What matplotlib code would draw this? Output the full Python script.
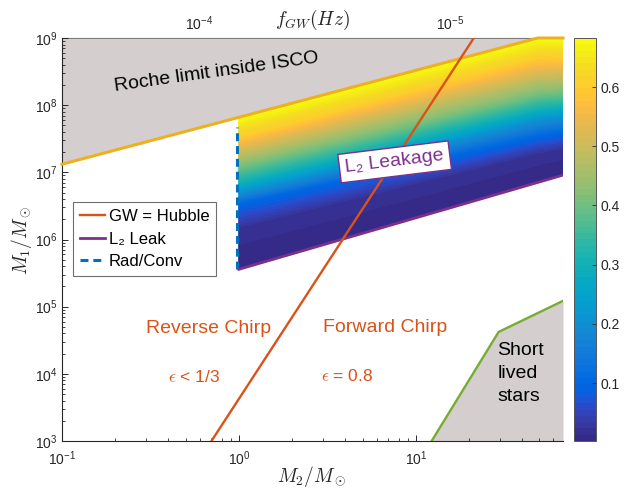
import numpy as np
import matplotlib
matplotlib.use('Agg')
import matplotlib.pyplot as plt
from matplotlib.colors import ListedColormap, Normalize
from matplotlib.ticker import FuncFormatter, FixedLocator

plt.rcParams['font.family'] = ['Liberation Sans', 'DejaVu Sans']
plt.rcParams['mathtext.fontset'] = 'cm'

# ---------------- data ----------------
x_lim = [0.1, 68.0]
y_lim = [1e3, 1e9]

roche_m2 = [0.1, 1.0, 49.0, 68.0]
roche_m1 = [1.32e7, 6.6e7, 1.0e9, 1.0e9]

l2_m2 = [1.0, 68.0]
l2_m1 = [3.6e5, 9.1e6]

gw_m2 = [0.70, 21.3]
gw_m1 = [1e3, 1e9]

radconv_m2 = [0.97, 0.97]
radconv_m1 = [3.7e5, 4.7e7]

short_m2 = [12.3, 29.4, 68.0]
short_m1 = [1e3, 4.2e4, 1.22e5]

# colour field: fractional (log) height between L2 line (0) and upper edge (1)
field_frac_left = [0.0, 0.27, 0.43, 0.50, 0.57, 0.67, 0.87, 1.0]   # at M2 = 1
field_frac_right = [0.0, 0.19, 0.31, 0.42, 0.50, 0.60, 0.86, 1.0]  # at M2 = 68
field_vals = [0.002, 0.02, 0.10, 0.20, 0.30, 0.40, 0.60, 0.683]
c_lim = [0.002, 0.683]
cbar_ticks = [0.1, 0.2, 0.3, 0.4, 0.5, 0.6]

x_major = [0.1, 1.0, 10.0]
y_major = [1e3, 1e4, 1e5, 1e6, 1e7, 1e8, 1e9]
top_major = [1e-5, 1e-4]
# top axis mapping f_GW = f_ref * (M2 / m2_ref) ** slope
fgw_ref = 1e-4
fgw_m2_ref = 0.594
fgw_slope = -0.705

legend_labels = ['GW = Hubble', 'L\u2082 Leak', 'Rad/Conv']

# parula colormap (64 entries)
parula = [
[0.2081,0.1663,0.5292],[0.2116,0.1898,0.5777],[0.2123,0.2138,0.6270],[0.2081,0.2386,0.6771],
[0.1959,0.2645,0.7279],[0.1707,0.2919,0.7792],[0.1253,0.3242,0.8303],[0.0591,0.3598,0.8683],
[0.0117,0.3875,0.8820],[0.0060,0.4086,0.8828],[0.0165,0.4266,0.8786],[0.0329,0.4430,0.8720],
[0.0498,0.4586,0.8641],[0.0629,0.4737,0.8554],[0.0723,0.4887,0.8467],[0.0779,0.5040,0.8384],
[0.0793,0.5200,0.8312],[0.0749,0.5375,0.8263],[0.0641,0.5570,0.8240],[0.0488,0.5772,0.8228],
[0.0343,0.5966,0.8199],[0.0265,0.6137,0.8135],[0.0239,0.6287,0.8038],[0.0231,0.6418,0.7913],
[0.0228,0.6535,0.7768],[0.0267,0.6642,0.7607],[0.0384,0.6743,0.7436],[0.0590,0.6838,0.7254],
[0.0843,0.6928,0.7062],[0.1133,0.7015,0.6859],[0.1453,0.7098,0.6646],[0.1801,0.7177,0.6424],
[0.2178,0.7250,0.6193],[0.2586,0.7317,0.5954],[0.3022,0.7376,0.5712],[0.3482,0.7424,0.5473],
[0.3953,0.7459,0.5244],[0.4420,0.7481,0.5033],[0.4871,0.7491,0.4840],[0.5300,0.7491,0.4661],
[0.5709,0.7485,0.4494],[0.6099,0.7473,0.4337],[0.6473,0.7456,0.4188],[0.6834,0.7435,0.4044],
[0.7184,0.7411,0.3905],[0.7525,0.7384,0.3768],[0.7858,0.7356,0.3633],[0.8185,0.7327,0.3498],
[0.8507,0.7299,0.3360],[0.8824,0.7274,0.3217],[0.9139,0.7258,0.3063],[0.9450,0.7261,0.2886],
[0.9739,0.7314,0.2666],[0.9938,0.7455,0.2403],[0.9990,0.7653,0.2164],[0.9955,0.7861,0.1967],
[0.9880,0.8066,0.1794],[0.9789,0.8271,0.1633],[0.9697,0.8481,0.1475],[0.9626,0.8705,0.1309],
[0.9589,0.8949,0.1132],[0.9598,0.9218,0.0948],[0.9661,0.9514,0.0755],[0.9763,0.9831,0.0538]]
cmap = ListedColormap(parula, name='parula')

C_GW = '#D95319'
C_L2 = '#7E2F8E'
C_RC = '#0072BD'
C_ROCHE = '#EDB120'
C_SHORT = '#77AC30'
C_GRAY = '#D5CECE'
C_AX = '#262626'

# ---------------- figure ----------------
W, H = 628, 490
fig = plt.figure(figsize=(W / 100, H / 100), dpi=100)
ax = fig.add_axes([62 / W, 1 - 441 / H, (563 - 62) / W, (441 - 38) / H])
ax.set_xscale('log')
ax.set_yscale('log')
ax.set_xlim(x_lim)
ax.set_ylim(y_lim)

# gray region: Roche limit inside ISCO
ax.fill_between(roche_m2, roche_m1, y_lim[1], color=C_GRAY, lw=0, zorder=1)
# gray region: short lived stars
ax.fill_between(short_m2, y_lim[0], short_m1, color=C_GRAY, lw=0, zorder=1)

# colour field
lm2 = np.linspace(np.log10(l2_m2[0]), np.log10(l2_m2[-1]), 140)
lo = np.interp(lm2, np.log10(l2_m2), np.log10(l2_m1))
hi = np.interp(lm2, np.log10(roche_m2), np.log10(roche_m1))
t = np.linspace(0, 1, 220)
wgt = (lm2 - lm2[0]) / (lm2[-1] - lm2[0])
fl = np.array(field_frac_left)
fr = np.array(field_frac_right)
Z = np.empty((t.size, lm2.size))
for j in range(lm2.size):
    nodes = (1 - wgt[j]) * fl + wgt[j] * fr
    Z[:, j] = np.interp(t, nodes, field_vals)
X = np.tile(10 ** lm2, (t.size, 1))
Y = 10 ** (lo[None, :] + t[:, None] * (hi - lo)[None, :])
norm = Normalize(vmin=c_lim[0], vmax=c_lim[1])
mesh = ax.pcolormesh(X, Y, Z, cmap=cmap, norm=norm, shading='gouraud', zorder=2)

# lines
ax.plot(radconv_m2, radconv_m1, color=C_RC, lw=2.2, ls=(0, (2.6, 1.6)), zorder=3,
        label=legend_labels[2])
ax.plot(l2_m2, l2_m1, color=C_L2, lw=2.0, zorder=4, label=legend_labels[1])
ax.plot(roche_m2, roche_m1, color=C_ROCHE, lw=2.2, zorder=4, clip_on=False)
ax.plot(short_m2, short_m1, color=C_SHORT, lw=1.7, zorder=4)
ax.plot(gw_m2, gw_m1, color=C_GW, lw=1.7, zorder=5, label=legend_labels[0])

# legend (order GW, L2, Rad/Conv)
h, l = ax.get_legend_handles_labels()
order = [l.index(s) for s in legend_labels]
leg = ax.legend([h[i] for i in order], [l[i] for i in order],
                loc='upper left', bbox_to_anchor=(0.022, 0.592), borderaxespad=0,
                fontsize=12, handlelength=1.5, handletextpad=0.25, labelspacing=0.45,
                borderpad=0.4, fancybox=False, framealpha=1, edgecolor='#6e6e6e')
leg.get_frame().set_linewidth(0.8)
leg.set_zorder(7)

# annotations
ax.text(0.75, 3.1e8, 'Roche limit inside ISCO', fontsize=14, rotation=8,
        ha='center', va='center', rotation_mode='anchor', color='black', zorder=6)
ax.text(7.6, 1.43e7, 'L\u2082 Leakage', fontsize=14, rotation=7, color=C_L2,
        ha='center', va='center', rotation_mode='anchor', zorder=6,
        bbox=dict(boxstyle='square,pad=0.3', facecolor='white', edgecolor=C_L2, linewidth=1.0))
ax.text(0.676, 4.8e4, 'Reverse Chirp', fontsize=14, color=C_GW, ha='center', va='center', zorder=6)
ax.text(6.68, 4.9e4, 'Forward Chirp', fontsize=14, color=C_GW, ha='center', va='center', zorder=6)
ax.text(0.557, 9.0e3, r'$\epsilon$ < 1/3', fontsize=12.5, color=C_GW, ha='center', va='center', zorder=6)
ax.text(4.07, 9.2e3, r'$\epsilon$ = 0.8', fontsize=12.5, color=C_GW, ha='center', va='center', zorder=6)
ax.text(29.0, 1.0e4, 'Short\nlived\nstars', fontsize=14, color='black', ha='left', va='center',
        linespacing=1.45, zorder=6)

# axes styling
def pow_fmt(v, pos=None):
    e = int(np.round(np.log10(v)))
    return r'$\mathregular{10^{%d}}$' % e

for s in ['top', 'right']:
    ax.spines[s].set_visible(False)
for s in ['left', 'bottom']:
    ax.spines[s].set_color(C_AX)
    ax.spines[s].set_linewidth(0.8)
ax.xaxis.set_major_locator(FixedLocator(x_major))
ax.yaxis.set_major_locator(FixedLocator(y_major))
ax.xaxis.set_major_formatter(FuncFormatter(pow_fmt))
ax.yaxis.set_major_formatter(FuncFormatter(pow_fmt))
ax.tick_params(which='both', direction='in', colors=C_AX, labelsize=10, top=False, right=False)
ax.tick_params(which='major', length=4, width=0.7)
ax.tick_params(which='minor', length=2.5, width=0.6)
ax.tick_params(axis='x', pad=6)

# top axis: f_GW
def m2_to_f(m):
    m = np.clip(np.asarray(m, dtype=float), 1e-12, None)
    return fgw_ref * (m / fgw_m2_ref) ** fgw_slope

def f_to_m2(f):
    f = np.clip(np.asarray(f, dtype=float), 1e-30, None)
    return fgw_m2_ref * (f / fgw_ref) ** (1.0 / fgw_slope)

sec = ax.secondary_xaxis('top', functions=(m2_to_f, f_to_m2))
sec.set_xticks(top_major)
sec.xaxis.set_major_formatter(FuncFormatter(pow_fmt))
sec.tick_params(which='both', direction='in', colors=C_AX, labelsize=10)
sec.tick_params(which='major', length=4, width=0.7)
sec.tick_params(which='minor', length=2.5, width=0.6)
sec.spines['top'].set_color(C_AX)
sec.spines['top'].set_linewidth(0.8)

# axis labels
fig.text(312 / W, 1 / H, r'$M_2/M_\odot$', fontsize=14, ha='center', va='bottom', color=C_AX)
fig.text(22 / W, 1 - 240 / H, r'$M_1/M_\odot$', fontsize=14, ha='center', va='center',
         rotation=90, color=C_AX)
fig.text(312 / W, 1 - 20 / H, r'$f_{GW}(Hz)$', fontsize=14, ha='center', va='center', color=C_AX)

# colorbar
cax = fig.add_axes([574 / W, 1 - 441 / H, 22 / W, (441 - 38) / H])
cb = fig.colorbar(mesh, cax=cax, ticks=cbar_ticks)
cb.ax.tick_params(direction='in', labelsize=10, length=3, width=0.6, colors=C_AX)
cb.ax.yaxis.set_major_formatter(FuncFormatter(lambda v, p: '%.1f' % v))
cb.outline.set_edgecolor('#555555')
cb.outline.set_linewidth(0.7)

fig.savefig('out.png', dpi=100)
